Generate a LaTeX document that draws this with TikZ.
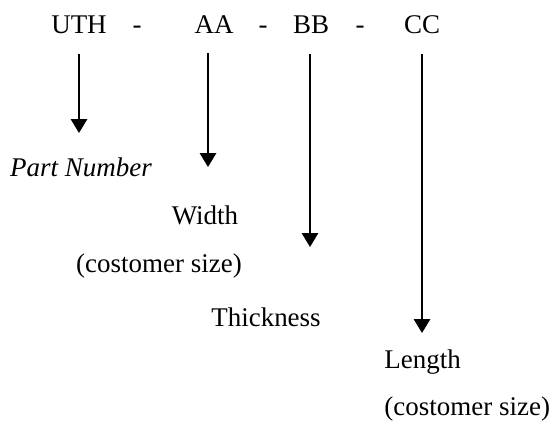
\documentclass[tikz,border=0pt]{standalone}
\usepackage{fontspec}
\setmainfont{Liberation Serif}
\usetikzlibrary{arrows.meta}

\begin{document}
\begin{tikzpicture}[x=0.43pt, y=-0.43pt,
        code/.style = {anchor=base, inner sep=0pt, font=\fontsize{11.6}{14}\selectfont},
        lbl/.style = {anchor=base, inner sep=0pt, font=\fontsize{11.6}{14}\selectfont},
        arr/.style = {-{Triangle[width=7pt,length=6pt]}, line width=0.9pt, shorten <=8.6pt}]
        \useasboundingbox (0,0) rectangle (550,424);

        % the code
        \node[code] (uth) at (79,33) {UTH};
        \node[code] (d1) at (137,33) {-};
        \node[code] (aa) at (214,33) {AA};
        \node[code] (d2) at (263,33) {-};
        \node[code] (bb) at (311,33) {BB};
        \node[code] (d3) at (360,33) {-};
        \node[code] (cc) at (422,33) {CC};

        % what each part means
        \node[lbl, font=\fontsize{11.6}{14}\selectfont\itshape] (part) at (81,176) {Part Number};
        \node[lbl] (width) at (205,224) {Width};
        \node[lbl] (wsize) at (159,272) {(costomer size)};
        \node[lbl] (thick) at (266,326) {Thickness};
        \node[lbl, anchor=base west] (len) at (384,368) {Length};
        \node[lbl, anchor=base west] (lsize) at (384,415) {(costomer size)};

        \coordinate (uthtip) at (79,133);
        \coordinate (aatip) at (208,167);
        \coordinate (bbtip) at (310,247);
        \coordinate (cctip) at (422,333);

        \draw[arr] (uth.south) -- (uthtip);
        \draw[arr] (aa.south -| aatip) -- (aatip);
        \draw[arr] (bb.south -| bbtip) -- (bbtip);
        \draw[arr] (cc.south -| cctip) -- (cctip);

\end{tikzpicture}
\end{document}
